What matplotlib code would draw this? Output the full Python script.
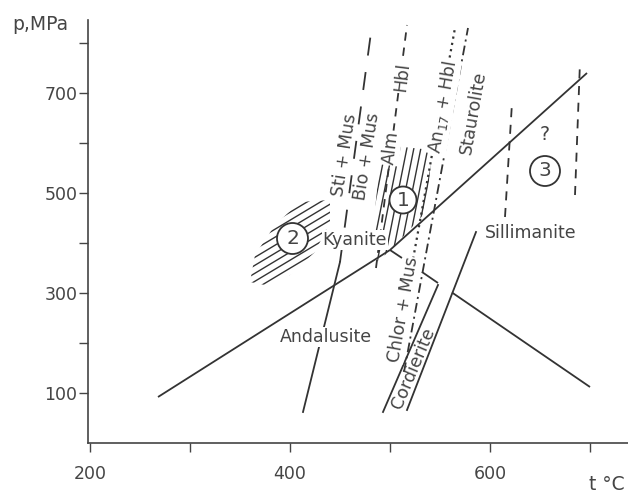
import numpy as np
import matplotlib
matplotlib.use("Agg")
import matplotlib.pyplot as plt
from matplotlib.patches import Polygon, Ellipse
from matplotlib.collections import LineCollection

plt.rcParams['font.family'] = ['DejaVu Sans']
plt.rcParams['lines.scale_dashes'] = False

# ---------------- data (T in °C, P in MPa) ----------------
and_ky_T = [268, 500]
and_ky_P = [92, 386]
ky_sil_T = [500, 697]
ky_sil_P = [386, 740]
and_sil_T = [[500, 512], [532, 548], [562, 700]]
and_sil_P = [[386, 370], [342, 320], [301, 112]]

sti_solid_T = [413, 450]
sti_solid_P = [62, 362]
sti_dash_T = [450, 482]
sti_dash_P = [362, 836]

alm_T = [486, 517]
alm_P = [350, 836]

an17_T = [522, 565]
an17_P = [356, 830]

staur_T = [514, 578]
staur_P = [142, 830]

cord_left_T = [493, 548]
cord_left_P = [62, 316]
cord_right_T = [517, 586]
cord_right_P = [66, 422]

sil_dash1_T = [615, 622]
sil_dash1_P = [452, 680]
sil_dash2_T = [685, 690]
sil_dash2_P = [496, 762]

# hatched field outlines
field2_T = [360, 365, 385, 410, 440, 440, 425, 400, 375]
field2_P = [322, 376, 436, 482, 486, 442, 382, 336, 316]
field1_T = [494, 542, 536, 510, 488, 482, 488]
field1_P = [596, 586, 462, 406, 362, 406, 526]

x_ticks = [200, 300, 400, 500, 600, 700]
x_labels = ['200', '', '400', '', '600', '']
y_ticks = [100, 200, 300, 400, 500, 600, 700, 800]
y_labels = ['100', '', '300', '', '500', '', '700', '']

# ---------------- figure ----------------
W, H = 628, 495
fig = plt.figure(figsize=(W / 100, H / 100), dpi=100)
ax = fig.add_axes([88 / W, 52 / H, 540 / W, 423 / H])
ax.set_xlim(198, 738)
ax.set_ylim(0, 846)

LC = '#333333'
TC = '#454545'
LW = 1.3

for s in ['top', 'right']:
    ax.spines[s].set_visible(False)
for s in ['left', 'bottom']:
    ax.spines[s].set_color('#444444')
    ax.spines[s].set_linewidth(1.2)

ax.set_xticks(x_ticks)
ax.set_xticklabels(x_labels)
ax.set_yticks(y_ticks)
ax.set_yticklabels(y_labels)
ax.tick_params(axis='both', direction='out', length=6.5, width=1.0, color='#444444',
               labelcolor=TC, labelsize=12.5)
ax.tick_params(axis='y', pad=1)
ax.tick_params(axis='x', pad=9)

# solid phase boundaries
ax.plot(and_ky_T, and_ky_P, color=LC, lw=LW, solid_capstyle='butt')
ax.plot(ky_sil_T, ky_sil_P, color=LC, lw=LW, solid_capstyle='butt')
for t, p in zip(and_sil_T, and_sil_P):
    ax.plot(t, p, color=LC, lw=LW, solid_capstyle='butt')

ax.plot(sti_solid_T, sti_solid_P, color=LC, lw=LW)
ax.plot(sti_dash_T, sti_dash_P, color=LC, lw=LW, dashes=(13, 12))
ax.plot(alm_T, alm_P, color=LC, lw=LW, dashes=(6, 5))
ax.plot(an17_T, an17_P, color=LC, lw=1.6, dashes=(1.6, 3.0))
ax.plot(staur_T, staur_P, color=LC, lw=LW, dashes=(7, 3, 1.5, 3))
ax.plot(cord_left_T, cord_left_P, color=LC, lw=LW)
ax.plot(cord_right_T, cord_right_P, color=LC, lw=LW)
ax.plot(sil_dash1_T, sil_dash1_P, color=LC, lw=LW, dashes=(6.5, 5.5))
ax.plot(sil_dash2_T, sil_dash2_P, color=LC, lw=LW, dashes=(6.5, 5.5))


def hatch(Ts, Ps, direction, step, n, lw=1.0):
    patch = Polygon(np.column_stack([Ts, Ps]), closed=True, fc='none', ec='none')
    ax.add_patch(patch)
    c = np.array([np.mean(Ts), np.mean(Ps)])
    d = np.array(direction, float)
    st = np.array(step, float)
    segs = []
    for k in range(-n, n + 1):
        m = c + k * st
        segs.append([m - 200 * d, m + 200 * d])
    lc = LineCollection(segs, colors=LC, linewidths=lw)
    lc.set_clip_path(patch)
    ax.add_collection(lc)


hatch(field2_T, field2_P, (1, 1.2), (0, 16), 12)
hatch(field1_T, field1_P, (0.2, 2), (7, 0), 12)

# circled numbers
for (t, p, r, s) in [(402.5, 409, 15.5, '2'), (513, 486, 13.5, '1'), (655, 544, 15, '3')]:
    ax.add_patch(Ellipse((t, p), 2 * r, 4 * r, fc='white', ec=LC, lw=1.3, zorder=5))
    ax.text(t, p, s, ha='center', va='center', fontsize=14.5, color=TC, zorder=6)

ax.text(465, 406, 'Kyanite', ha='center', va='center', fontsize=12.5, color=TC,
        bbox=dict(fc='white', ec='none', pad=0.5), zorder=4)
ax.text(436, 212, 'Andalusite', ha='center', va='center', fontsize=12.5, color=TC,
        bbox=dict(fc='white', ec='none', pad=0.5), zorder=4)
ax.text(641, 420, 'Sillimanite', ha='center', va='center', fontsize=12.5, color=TC, zorder=4)
ax.text(655, 618, '?', ha='center', va='center', fontsize=13.5, color=TC, zorder=4)

ax.text(583, 660, 'Staurolite', ha='center', va='center', rotation=80,
        fontsize=12.5, color=TC, zorder=4, rotation_mode='anchor')
ax.text(553, 672, 'An$_{17}$ + Hbl', ha='center', va='center', rotation=80,
        fontsize=12.5, color=TC, zorder=4, rotation_mode='anchor',
        bbox=dict(fc='white', ec='none', pad=0.5))
ax.text(501, 590, 'Alm', ha='center', va='center', rotation=83,
        fontsize=12.5, color=TC, zorder=4, rotation_mode='anchor',
        bbox=dict(fc='white', ec='none', pad=0.5))
ax.text(512, 732, 'Hbl', ha='center', va='center', rotation=83,
        fontsize=12.5, color=TC, zorder=4, rotation_mode='anchor',
        bbox=dict(fc='white', ec='none', pad=0.5))
ax.text(455, 576, 'Sti + Mus', ha='center', va='center', rotation=81,
        fontsize=12.5, color=TC, zorder=4, rotation_mode='anchor')
ax.text(477, 572, 'Bio + Mus', ha='center', va='center', rotation=81,
        fontsize=12.5, color=TC, zorder=4, rotation_mode='anchor')
ax.text(513, 266, 'Chlor + Mus', ha='center', va='center', rotation=80,
        fontsize=12.5, color=TC, zorder=4, rotation_mode='anchor',
        bbox=dict(fc='white', ec='none', pad=0.3))
ax.text(523, 150, 'Cordierite', ha='center', va='center', rotation=67,
        fontsize=12.5, color=TC, zorder=4, rotation_mode='anchor')

fig.text(12 / W, 1 - 25 / H, 'p,MPa', ha='left', va='center', fontsize=13.5, color=TC)
fig.text(607 / W, 1 - 484 / H, 't °C', ha='center', va='center', fontsize=13.5, color=TC)

fig.savefig('out.png', dpi=100, facecolor='white')
